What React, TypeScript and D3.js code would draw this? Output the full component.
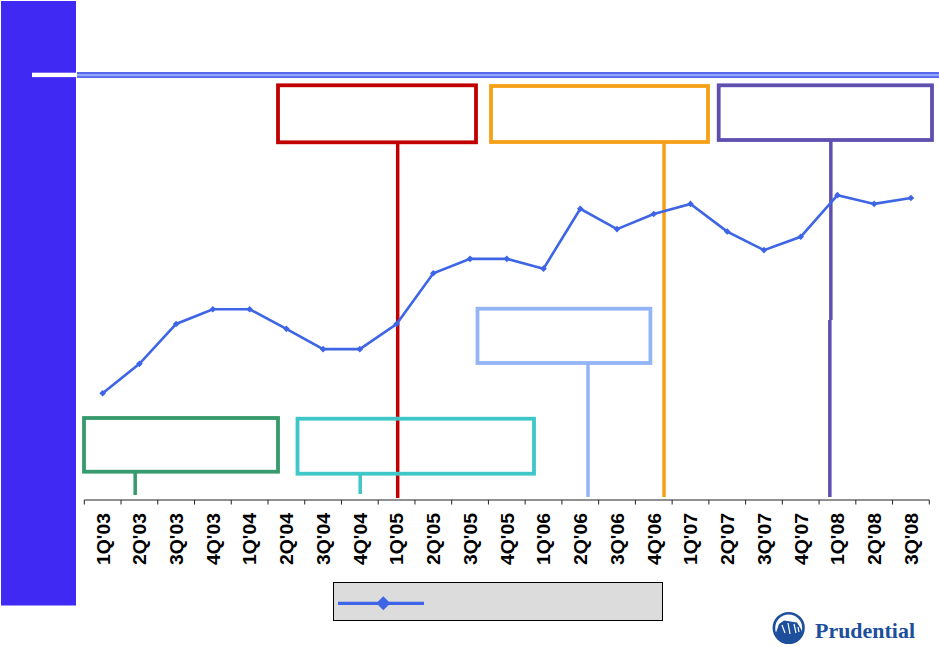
import * as d3 from 'd3';

const quarters = [
  "1Q'03", "2Q'03", "3Q'03", "4Q'03", "1Q'04", "2Q'04", "3Q'04", "4Q'04",
  "1Q'05", "2Q'05", "3Q'05", "4Q'05", "1Q'06", "2Q'06", "3Q'06", "4Q'06",
  "1Q'07", "2Q'07", "3Q'07", "4Q'07", "1Q'08", "2Q'08", "3Q'08",
];

// values (no axis in the original, arbitrary units)
const seriesValues = [
  30.5, 38.9, 50.3, 54.5, 54.5, 48.9, 43.1, 43.1,
  50.3, 64.8, 68.9, 68.9, 66.1, 83.2, 77.4, 81.7,
  84.6, 76.7, 71.4, 75.2, 87.1, 84.6, 86.3,
];

// callout boxes: which quarter the leader line points at and where in the band
const calloutQuarters = ["1Q'05", "4Q'06", "1Q'08", "2Q'03", "4Q'04", "2Q'06"];
const calloutOffsets = [0.53, 0.78, 0.32, 0.385, 0.51, 0.71];
const calloutColors = ['#c00000', '#f6a017', '#5f4fb0', '#369a6c', '#3fc6c6', '#93b4f5'];

const W = 939;
const H = 647;

const boxLayout = [
  { x0: 278, y0: 85.3, x1: 476, y1: 142.3 },
  { x0: 491, y0: 86, x1: 708, y1: 142 },
  { x0: 718.7, y0: 85.3, x1: 932, y1: 140 },
  { x0: 84, y0: 418, x1: 278, y1: 471.7 },
  { x0: 297.5, y0: 418.7, x1: 534, y1: 473.7 },
  { x0: 477.5, y0: 308.7, x1: 650.4, y1: 363 },
];
const leaderBottom = [498, 497, 497, 495, 494, 497];

const lineColor = '#3d65e6';

export default function App() {
  const axisY = 500;
  const x = d3.scaleBand<string>().domain(quarters).range([84.3, 929.3]);
  const y = d3.scaleLinear().domain([0, 100]).range([axisY, 150]);
  const cx = (q: string) => (x(q) ?? 0) + x.bandwidth() / 2;

  const line = d3
    .line<number>()
    .x((_, i) => cx(quarters[i]))
    .y((d) => y(d));

  const marker = d3.symbol().type(d3.symbolSquare).size(22)() as string;
  const legendMarker = d3.symbol().type(d3.symbolSquare).size(98)() as string;

  const tickXs = quarters.map((q) => x(q) ?? 0).concat([x.range()[1]]);

  return (
    <svg
      width={W}
      height={H}
      style={{ position: 'absolute', left: 0, top: 0, background: '#fff' }}
      fontFamily="Arial, 'Liberation Sans', sans-serif"
    >
      {/* left bar and title rule */}
      <rect x={1} y={1} width={75} height={604.5} fill="#4029f2" />
      <rect x={77} y={72} width={W - 77} height={6} fill="#5a68ee" />
      <rect x={77} y={74} width={W - 77} height={2.2} fill="#8ea7ff" />
      <rect x={32} y={72.7} width={45} height={4.4} fill="#fff" />

      {/* leader lines */}
      {calloutQuarters.map((q, i) => {
        const lx = (x(q) ?? 0) + x.bandwidth() * calloutOffsets[i];
        const b = boxLayout[i];
        if (i === 2) {
          return (
            <g key={q} stroke={calloutColors[i]} strokeWidth={3.5}>
              <line x1={lx} x2={lx} y1={b.y1} y2={320} />
              <line x1={lx - 1} x2={lx - 1} y1={320} y2={leaderBottom[i]} />
            </g>
          );
        }
        return (
          <line
            key={q}
            x1={lx}
            x2={lx}
            y1={b.y1}
            y2={leaderBottom[i]}
            stroke={calloutColors[i]}
            strokeWidth={3.5}
          />
        );
      })}

      {/* callout boxes */}
      {boxLayout.map((b, i) => (
        <rect
          key={i}
          x={b.x0}
          y={b.y0}
          width={b.x1 - b.x0}
          height={b.y1 - b.y0}
          fill="none"
          stroke={calloutColors[i]}
          strokeWidth={3.8}
        />
      ))}

      {/* series */}
      <path d={line(seriesValues) ?? ''} fill="none" stroke={lineColor} strokeWidth={2.6} />
      {seriesValues.map((v, i) => (
        <path
          key={i}
          d={marker}
          transform={`translate(${cx(quarters[i])},${y(v)}) rotate(45)`}
          fill={lineColor}
        />
      ))}

      {/* x axis */}
      <line x1={x.range()[0]} x2={x.range()[1]} y1={axisY} y2={axisY} stroke="#222" strokeWidth={1} />
      {tickXs.map((t, i) => (
        <line key={i} x1={t} x2={t} y1={axisY} y2={axisY + 4.5} stroke="#222" strokeWidth={1} />
      ))}
      {quarters.map((q) => (
        <text
          key={q}
          transform={`translate(${cx(q)},513) rotate(-90)`}
          textAnchor="end"
          dy="0.36em"
          fontSize={19}
          fontWeight="bold"
          fill="#000"
          textLength={52}
          lengthAdjust="spacingAndGlyphs"
        >
          {q}
        </text>
      ))}

      {/* legend */}
      <rect x={333.5} y={582.5} width={329} height={38} fill="#dcdcdc" stroke="#000" strokeWidth={1} />
      <line x1={338} x2={424} y1={603.3} y2={603.3} stroke={lineColor} strokeWidth={3.2} />
      <path d={legendMarker} transform="translate(383.3,603.3) rotate(45)" fill={lineColor} />

      {/* logo */}
      <g>
        <circle cx={788.7} cy={628} r={14.8} fill="#fff" stroke="#1d4f9c" strokeWidth={2.6} />
        <path
          d="M775.5,634 L779,624 L784,620.5 L797,622.5 L801.5,630 L802.5,634 A14.8,14.8 0 0 1 775.5,634 Z"
          fill="#1d4f9c"
        />
        <path
          d="M782,625 L785,633 M788,623 L790,634 M794,624 L796,633 M798,627 L799,632"
          stroke="#fff"
          strokeWidth={1.2}
          fill="none"
        />
        <text
          x={815}
          y={637.7}
          fontFamily="'Liberation Serif', 'Times New Roman', serif"
          fontWeight="bold"
          fontSize={21}
          fill="#1d4f9c"
          textLength={100}
          lengthAdjust="spacingAndGlyphs"
        >
          Prudential
        </text>
      </g>
    </svg>
  );
}
